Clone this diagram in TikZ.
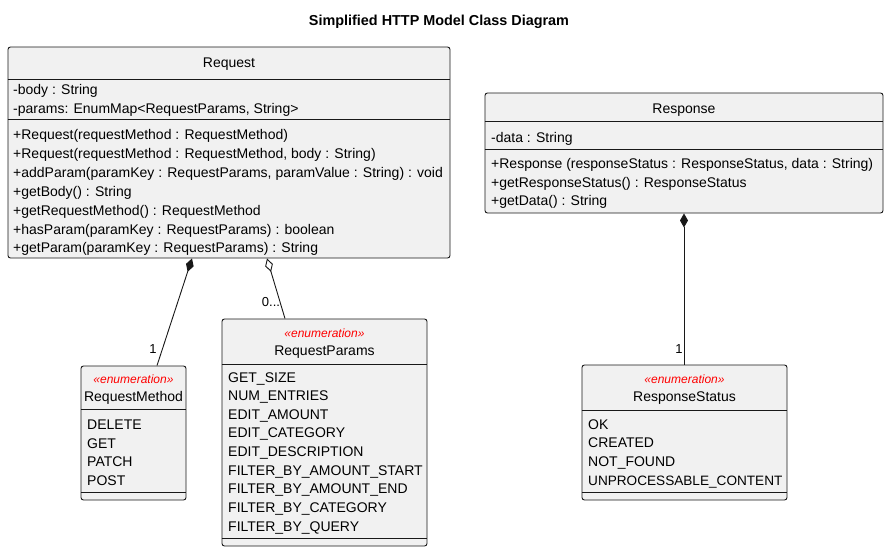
\documentclass[tikz,border=0pt]{standalone}
\usepackage{fontspec}
\setmainfont{Liberation Sans}
\usetikzlibrary{arrows.meta}
\definecolor{umlfill}{HTML}{F1F1F1}
\definecolor{umlline}{HTML}{181818}
\definecolor{stereo}{HTML}{FF0000}
\begin{document}
\begin{tikzpicture}[x=1pt,y=-1pt,
  classbox/.style={draw=umlline, fill=umlfill, line width=0.9pt, rounded corners=2.5pt, inner sep=0pt},
  sep/.style={draw=umlline, line width=0.9pt},
  member/.style={anchor=base west, inner sep=0pt, text=black, font=\fontsize{14}{16}\selectfont},
  cname/.style={anchor=base, inner sep=0pt, text=black, font=\fontsize{14}{16}\selectfont},
  stereotype/.style={anchor=base, inner sep=0pt, text=stereo, font=\fontsize{12}{14}\selectfont\itshape},
  mult/.style={inner sep=0pt, text=black, font=\fontsize{13}{15}\selectfont},
  comp/.style={draw=umlline, line width=0.9pt, {Diamond[length=14pt,width=8pt,fill=umlline]}-},
  aggr/.style={draw=umlline, line width=0.9pt, {Diamond[open,length=14pt,width=8pt,fill=white]}-},
  titletext/.style={anchor=base, inner sep=0pt, font=\fontsize{14.4}{16}\selectfont\bfseries}
]
\useasboundingbox[fill=white] (0,0) rectangle (889,552);

\node[titletext] (title) at (439,25) {Simplified HTTP Model Class Diagram};

% boxes
\node[classbox, minimum width=442pt, minimum height=211pt] (req) at (229,152.5) {};
\node[classbox, minimum width=398pt, minimum height=120pt] (resp) at (684,153) {};
\node[classbox, minimum width=105pt, minimum height=134pt] (rm) at (133.5,433) {};
\node[classbox, minimum width=205pt, minimum height=227pt] (rp) at (324.5,432.5) {};
\node[classbox, minimum width=205pt, minimum height=135pt] (rs) at (684.5,432.5) {};

% separators
\draw[sep] (req.west |- 0,79) -- (req.east |- 0,79);
\draw[sep] (req.west |- 0,119) -- (req.east |- 0,119);
\draw[sep] (resp.west |- 0,121) -- (resp.east |- 0,121);
\draw[sep] (resp.west |- 0,149) -- (resp.east |- 0,149);
\draw[sep] (rm.west |- 0,409) -- (rm.east |- 0,409);
\draw[sep] (rm.west |- 0,492) -- (rm.east |- 0,492);
\draw[sep] (rp.west |- 0,364) -- (rp.east |- 0,364);
\draw[sep] (rp.west |- 0,538) -- (rp.east |- 0,538);
\draw[sep] (rs.west |- 0,410) -- (rs.east |- 0,410);
\draw[sep] (rs.west |- 0,492) -- (rs.east |- 0,492);

% Request
\node[cname] (reqn) at (229,67) {Request};
\node[member] (req1) at (13,94) {-body : String};
\node[member] (req2) at (13,113) {-params: EnumMap<RequestParams, String>};
\node[member] (req3) at (13,139) {+Request(requestMethod : RequestMethod)};
\node[member] (req4) at (13,158) {+Request(requestMethod : RequestMethod, body : String)};
\node[member] (req5) at (13,177) {+addParam(paramKey : RequestParams, paramValue : String) : void};
\node[member] (req6) at (13,196) {+getBody() : String};
\node[member] (req7) at (13,215) {+getRequestMethod() : RequestMethod};
\node[member] (req8) at (13,234) {+hasParam(paramKey : RequestParams) : boolean};
\node[member] (req9) at (13,252.5) {+getParam(paramKey : RequestParams) : String};

% Response
\node[cname] (respn) at (684,113) {Response};
\node[member] (resp1) at (491,142) {-data : String};
\node[member] (resp2) at (491,168) {+Response (responseStatus : ResponseStatus, data : String)};
\node[member] (resp3) at (491,187) {+getResponseStatus() : ResponseStatus};
\node[member] (resp4) at (491,205) {+getData() : String};

% RequestMethod
\node[stereotype] (rms) at (133.5,383.5) {«enumeration»};
\node[cname] (rmn) at (133.5,401) {RequestMethod};
\node[member] (rm1) at (87,429) {DELETE};
\node[member] (rm2) at (87,448) {GET};
\node[member] (rm3) at (87,466) {PATCH};
\node[member] (rm4) at (87,485) {POST};

% RequestParams
\node[stereotype] (rps) at (324.5,337.5) {«enumeration»};
\node[cname] (rpn) at (324.5,355) {RequestParams};
\node[member] (rp1) at (228,382) {GET\_SIZE};
\node[member] (rp2) at (228,400.6) {NUM\_ENTRIES};
\node[member] (rp3) at (228,419.3) {EDIT\_AMOUNT};
\node[member] (rp4) at (228,437.9) {EDIT\_CATEGORY};
\node[member] (rp5) at (228,456.5) {EDIT\_DESCRIPTION};
\node[member] (rp6) at (228,475.1) {FILTER\_BY\_AMOUNT\_START};
\node[member] (rp7) at (228,493.8) {FILTER\_BY\_AMOUNT\_END};
\node[member] (rp8) at (228,512.4) {FILTER\_BY\_CATEGORY};
\node[member] (rp9) at (228,531) {FILTER\_BY\_QUERY};

% ResponseStatus
\node[stereotype] (rss) at (684.5,383.5) {«enumeration»};
\node[cname] (rsn) at (684.5,401) {ResponseStatus};
\node[member] (rs1) at (588,429) {OK};
\node[member] (rs2) at (588,447) {CREATED};
\node[member] (rs3) at (588,466) {NOT\_FOUND};
\node[member, font=\fontsize{13.6}{16}\selectfont] (rs4) at (588,485) {UNPROCESSABLE\_CONTENT};

% connectors
\coordinate (c1a) at (req.south -| 192,0);
\coordinate (c1b) at (rm.north -| 157,0);
\coordinate (c2a) at (req.south -| 267,0);
\coordinate (c2b) at (rp.north -| 285,0);
\coordinate (c3a) at (resp.south -| 684,0);
\coordinate (c3b) at (rs.north -| 684,0);
\draw[comp] (c1a) -- (c1b);
\draw[aggr] (c2a) -- (c2b);
\draw[comp] (c3a) -- (c3b);

\node[mult] (m1) at (153,349) {1};
\node[mult] (m2) at (271,302) {0...};
\node[mult] (m3) at (679,349) {1};
\end{tikzpicture}
\end{document}
